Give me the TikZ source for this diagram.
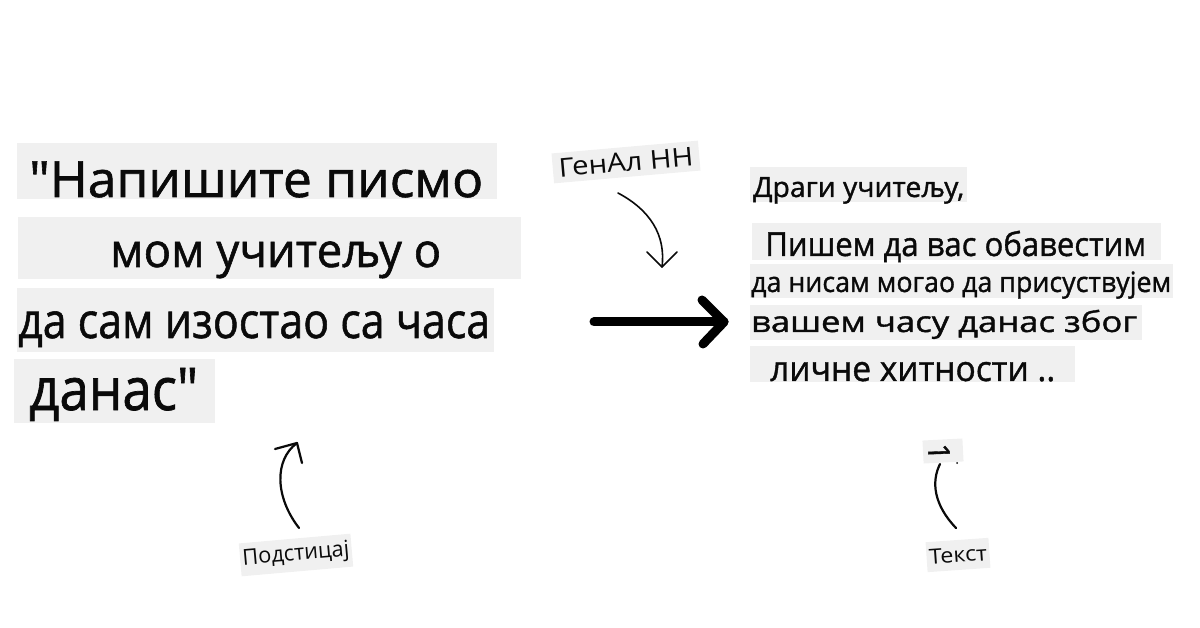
\documentclass[tikz,border=0pt]{standalone}
\usepackage{fontspec}
\usepackage{graphicx}
\newfontfamily\os{Open Sans}
\newfontfamily\osb[FakeBold=1.2]{Open Sans}
\newcommand{\fitw}[2]{\resizebox{#1}{\height}{#2}}
\newcommand{\fs}[1]{\fontsize{#1}{#1}\selectfont}
\definecolor{boxgray}{RGB}{240,240,240}
\definecolor{ink}{RGB}{10,10,10}
\tikzset{
  txt/.style={anchor=base west, inner sep=0pt, text=ink, font=\osb},
  band/.style={fill=boxgray},
  tag/.style={fill=boxgray, inner sep=0pt, text=ink, font=\os},
  thin arrow/.style={draw=ink, line width=2.2pt, line cap=round, line join=round},
  big arrow/.style={draw=black, line width=9pt, line cap=round, line join=round}
}
\begin{document}
\begin{tikzpicture}[x=1pt,y=-1pt]
\useasboundingbox (0,0) rectangle (1200,628);
% left prompt bands
\fill[band] (17,143) rectangle (497,199);
\fill[band] (18,217) rectangle (521,279);
\fill[band] (17,288) rectangle (494,352);
\fill[band] (14,359) rectangle (215,423);
\node[txt] (l1) at (29,197) {\fs{50}\fitw{454pt}{"Напишите писмо}};
\node[txt] (l2) at (110,267) {\fs{47}\fitw{331pt}{мом учитељу о}};
\node[txt] (l3) at (18,338) {\fs{49}\fitw{472pt}{да сам изостао са часа}};
\node[txt] (l4) at (29,410) {\fs{59}\fitw{169pt}{данас"}};
% right output bands
\fill[band] (750,167) rectangle (967,202);
\fill[band] (752,223) rectangle (1161,260);
\fill[band] (750,264) rectangle (1173,298);
\fill[band] (750,305) rectangle (1142,340);
\fill[band] (750,346) rectangle (1075,382);
\node[txt] (r1) at (753,197) {\fs{28}\fitw{211pt}{Драги учитељу,}};
\node[txt] (r2) at (765,256) {\fs{33}\fitw{381pt}{Пишем да вас обавестим}};
\node[txt] (r3) at (751,292) {\fs{28}\fitw{420pt}{да нисам могао да присуствујем}};
\node[txt] (r4) at (751,332) {\fs{29}\fitw{386pt}{вашем часу данас због}};
\begin{scope}
\clip (740,340) rectangle (1100,382);
\node[txt] (r5) at (770,381) {\fs{35}\fitw{285pt}{личне хитности ..}};
\end{scope}
% labels
\node[tag, rotate=5, minimum width=147pt, minimum height=30pt] (gen) at (626,162) {\fs{26}\fitw{135pt}{ГенАл НН}};
\node[tag, rotate=5, minimum width=112pt, minimum height=33pt] (prompt) at (296,555) {\fs{22}\fitw{107pt}{Подстицај}};
\node[tag, rotate=4, minimum width=63pt, minimum height=30pt] (text) at (958,555) {\fs{21}\fitw{58pt}{Текст}};
\node[tag, rotate=3, minimum width=40pt, minimum height=23pt] (mark) at (943,451) {};
\node[inner sep=0pt, text=ink, font=\osb, rotate=-88] (one) at (939,452) {\fs{30}1};
\fill[ink] (957,463) circle (1pt);
% arrows
\coordinate (ga) at (618,193);
\coordinate (gb) at (662,267);
\draw[thin arrow, line width=1.6pt] (ga) .. controls (650,210) and (666,235) .. (gb);
\draw[thin arrow, line width=1.6pt] (647,252) -- (gb) -- (677,252);
\coordinate (ba) at (594,322);
\coordinate (bb) at (724,322);
\draw[big arrow] (ba) -- (bb);
\draw[big arrow] (702,300) -- (bb) -- (703,344);
\coordinate (pa) at (299,528);
\coordinate (pb) at (297,443);
\draw[thin arrow] (pa) .. controls (275,497) and (274,460) .. (pb);
\draw[thin arrow] (275,449) -- (pb) -- (302,463);
\coordinate (ta) at (956,528);
\coordinate (tb) at (940,464);
\draw[thin arrow] (ta) .. controls (934,505) and (931,482) .. (tb);
\end{tikzpicture}
\end{document}
